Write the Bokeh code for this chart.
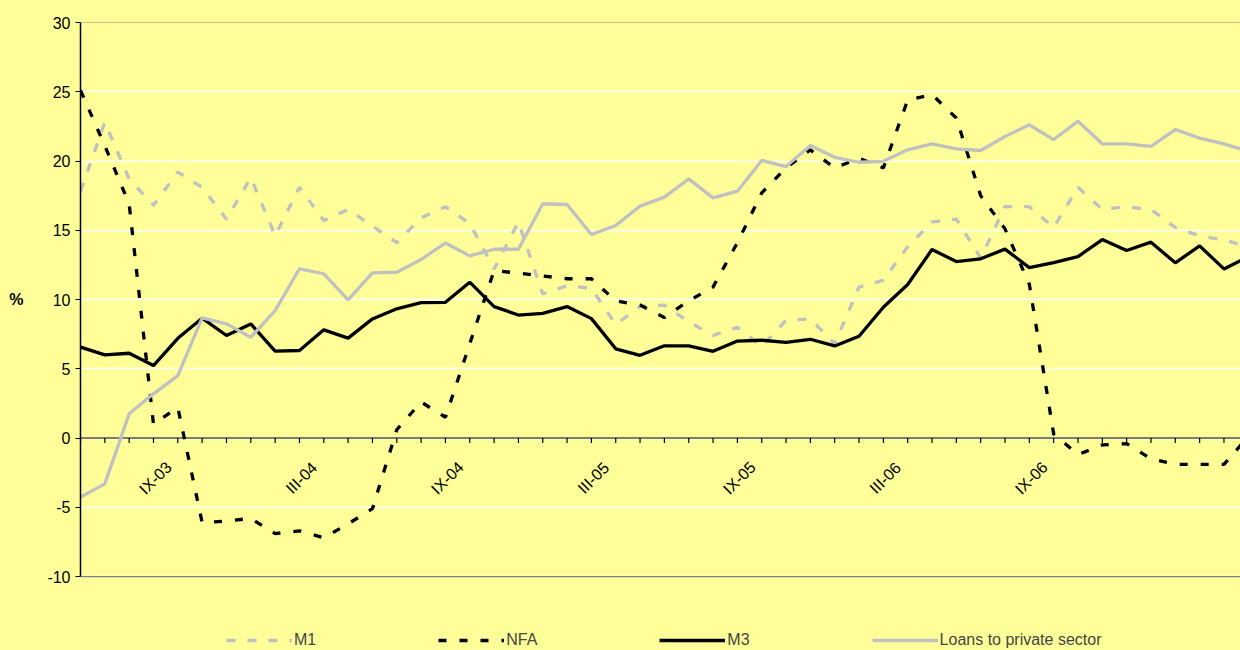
import math
from bokeh.plotting import figure
from bokeh.models import Range1d, FixedTicker, Span, Legend, LegendItem, LinearAxis
from bokeh.core.properties import value
from bokeh.embed import file_html
from bokeh.resources import INLINE

# ---- data -------------------------------------------------------------
roman = ["I", "II", "III", "IV", "V", "VI", "VII", "VIII", "IX", "X", "XI", "XII"]
# monthly categories VI-03 ... VI-07
months = [f"{roman[(5 + k) % 12]}-{3 + (5 + k) // 12:02d}" for k in range(49)]
tick_labels = ["IX-03", "III-04", "IX-04", "III-05", "IX-05", "III-06", "IX-06"]
y_ticks = [-10, -5, 0, 5, 10, 15, 20, 25, 30]
unit_label = "%"

m1 = [17.8, 22.8, 18.7, 16.8, 19.2, 18.1, 15.8, 18.8, 14.6, 18.1,
      15.7, 16.5, 15.3, 14.1, 15.9, 16.7, 15.5, 12.2, 15.6, 10.4,
      11.0, 10.8, 8.2, 9.5, 9.6, 8.4, 7.4, 8.0, 6.6, 8.5,
      8.6, 6.8, 10.9, 11.4, 13.8, 15.6, 15.8, 13.0, 16.7, 16.7,
      15.2, 18.1, 16.5, 16.7, 16.5, 15.2, 14.6, 14.3, 13.8]
nfa = [25.1, 21.1, 16.9, 1.0, 2.2, -6.1, -6.0, -5.8, -6.9, -6.7,
       -7.2, -6.2, -5.1, 0.6, 2.6, 1.5, 6.8, 12.1, 11.9, 11.7,
       11.5, 11.5, 9.9, 9.6, 8.7, 9.9, 10.9, 14.1, 17.7, 19.5,
       20.8, 19.5, 20.2, 19.5, 24.4, 24.8, 23.1, 17.5, 15.1, 11.1,
       0.3, -1.2, -0.5, -0.4, -1.5, -1.9, -1.9, -1.9, 0.1]
m3 = [6.56, 6.0, 6.12, 5.23, 7.2, 8.65, 7.4, 8.24, 6.27, 6.32,
      7.81, 7.21, 8.6, 9.33, 9.78, 9.8, 11.25, 9.49, 8.88, 9.0,
      9.49, 8.62, 6.44, 5.97, 6.66, 6.66, 6.26, 7.0, 7.06, 6.9,
      7.13, 6.65, 7.35, 9.44, 11.08, 13.61, 12.74, 12.94, 13.64, 12.3,
      12.67, 13.1, 14.33, 13.54, 14.14, 12.65, 13.87, 12.21, 13.1]
loans = [-4.27, -3.31, 1.75, 3.19, 4.51, 8.68, 8.24, 7.28, 9.2, 12.22,
         11.86, 9.98, 11.93, 11.97, 12.89, 14.08, 13.15, 13.63, 13.63, 16.91,
         16.86, 14.69, 15.34, 16.74, 17.39, 18.71, 17.34, 17.82, 20.04, 19.6,
         21.12, 20.27, 19.91, 19.98, 20.81, 21.24, 20.88, 20.76, 21.77, 22.61,
         21.55, 22.87, 21.24, 21.24, 21.05, 22.27, 21.65, 21.24, 20.71]

x = list(range(len(months)))
tick_idx = [months.index(t) for t in tick_labels]

# ---- styling ----------------------------------------------------------
BG = "#FFFF99"
GRAY = "#C0C0C0"
FONT = "Liberation Sans"

# the plot frame continues below -10 to hold the legend; axis is bounded to -10..30
Y_LOW = -15.34

p = figure(width=1240, height=650,
           x_range=Range1d(0, 47.68), y_range=Range1d(Y_LOW, 30),
           x_axis_type=None,
           output_backend="svg", toolbar_location=None,
           min_border_left=80, min_border_right=0,
           min_border_top=22, min_border_bottom=0,
           background_fill_color=BG, border_fill_color=BG,
           outline_line_color=None)

# y axis
yax = p.yaxis[0]
yax.ticker = FixedTicker(ticks=y_ticks)
yax.bounds = (-10, 30)
yax.major_label_overrides = {v: str(v) for v in y_ticks}
yax.axis_line_color = "black"
yax.axis_line_width = 1.5
yax.major_tick_line_color = "black"
yax.major_tick_out = 5
yax.major_tick_in = 0
yax.minor_tick_line_color = None
yax.major_label_text_font = FONT
yax.major_label_text_font_size = "16px"
yax.major_label_text_color = "black"
yax.major_label_standoff = 5

# unit label "%" at the height of the 10 tick, via a bare outer axis
unit_axis = LinearAxis(ticker=FixedTicker(ticks=[10]),
                       major_label_overrides={10: unit_label},
                       axis_line_color=None, major_tick_line_color=None,
                       minor_tick_line_color=None, major_tick_out=0, major_tick_in=0,
                       major_label_standoff=21,
                       major_label_text_font=FONT, major_label_text_font_size="16px",
                       major_label_text_font_style="bold", major_label_text_color="black")
p.add_layout(unit_axis, "left")

p.ygrid.ticker = FixedTicker(ticks=y_ticks)
p.ygrid.grid_line_color = "white"
p.ygrid.grid_line_width = 1.6

# plot-area border (top / bottom) and category axis at zero
p.add_layout(Span(location=30, dimension="width", line_color="#808080", line_width=1.2, level="underlay"))
p.add_layout(Span(location=-10, dimension="width", line_color="#808080", line_width=1.2, level="underlay"))
p.add_layout(Span(location=0, dimension="width", line_color="#505050", line_width=1.6, level="underlay"))

# month tick marks on the zero line
p.segment(x0=x, y0=[0] * len(x), x1=x, y1=[-0.36] * len(x), line_color="black", line_width=1.2)

# rotated category labels
p.text(x=tick_idx, y=[0] * len(tick_idx), text=tick_labels, angle=math.pi / 4,
       text_align="center", text_baseline="middle", x_offset=2, y_offset=40,
       text_font=value(FONT), text_font_size="16px", text_color="black")

# series
r_m1 = p.line(x, m1, line_color=GRAY, line_width=3.3, line_dash="9 12")
r_nfa = p.line(x, nfa, line_color="black", line_width=3.3, line_dash="8 13")
r_m3 = p.line(x, m3, line_color="black", line_width=3.3)
r_loans = p.line(x, loans, line_color=GRAY, line_width=3.3)

legend = Legend(items=[LegendItem(label="M1", renderers=[r_m1]),
                       LegendItem(label="NFA", renderers=[r_nfa]),
                       LegendItem(label="M3", renderers=[r_m3]),
                       LegendItem(label="Loans to private sector", renderers=[r_loans])],
                location=(146, 1), orientation="horizontal",
                glyph_width=66, glyph_height=16, label_height=16,
                label_standoff=2, spacing=122,
                padding=0, margin=0, border_line_color=None, background_fill_alpha=0,
                label_text_font=FONT, label_text_font_size="16px")
p.add_layout(legend)

html = file_html(p, INLINE)
html = html.replace("<head>", "<head><style>body{background:#FFFF99;}</style>", 1)
open("out.html", "w").write(html)
